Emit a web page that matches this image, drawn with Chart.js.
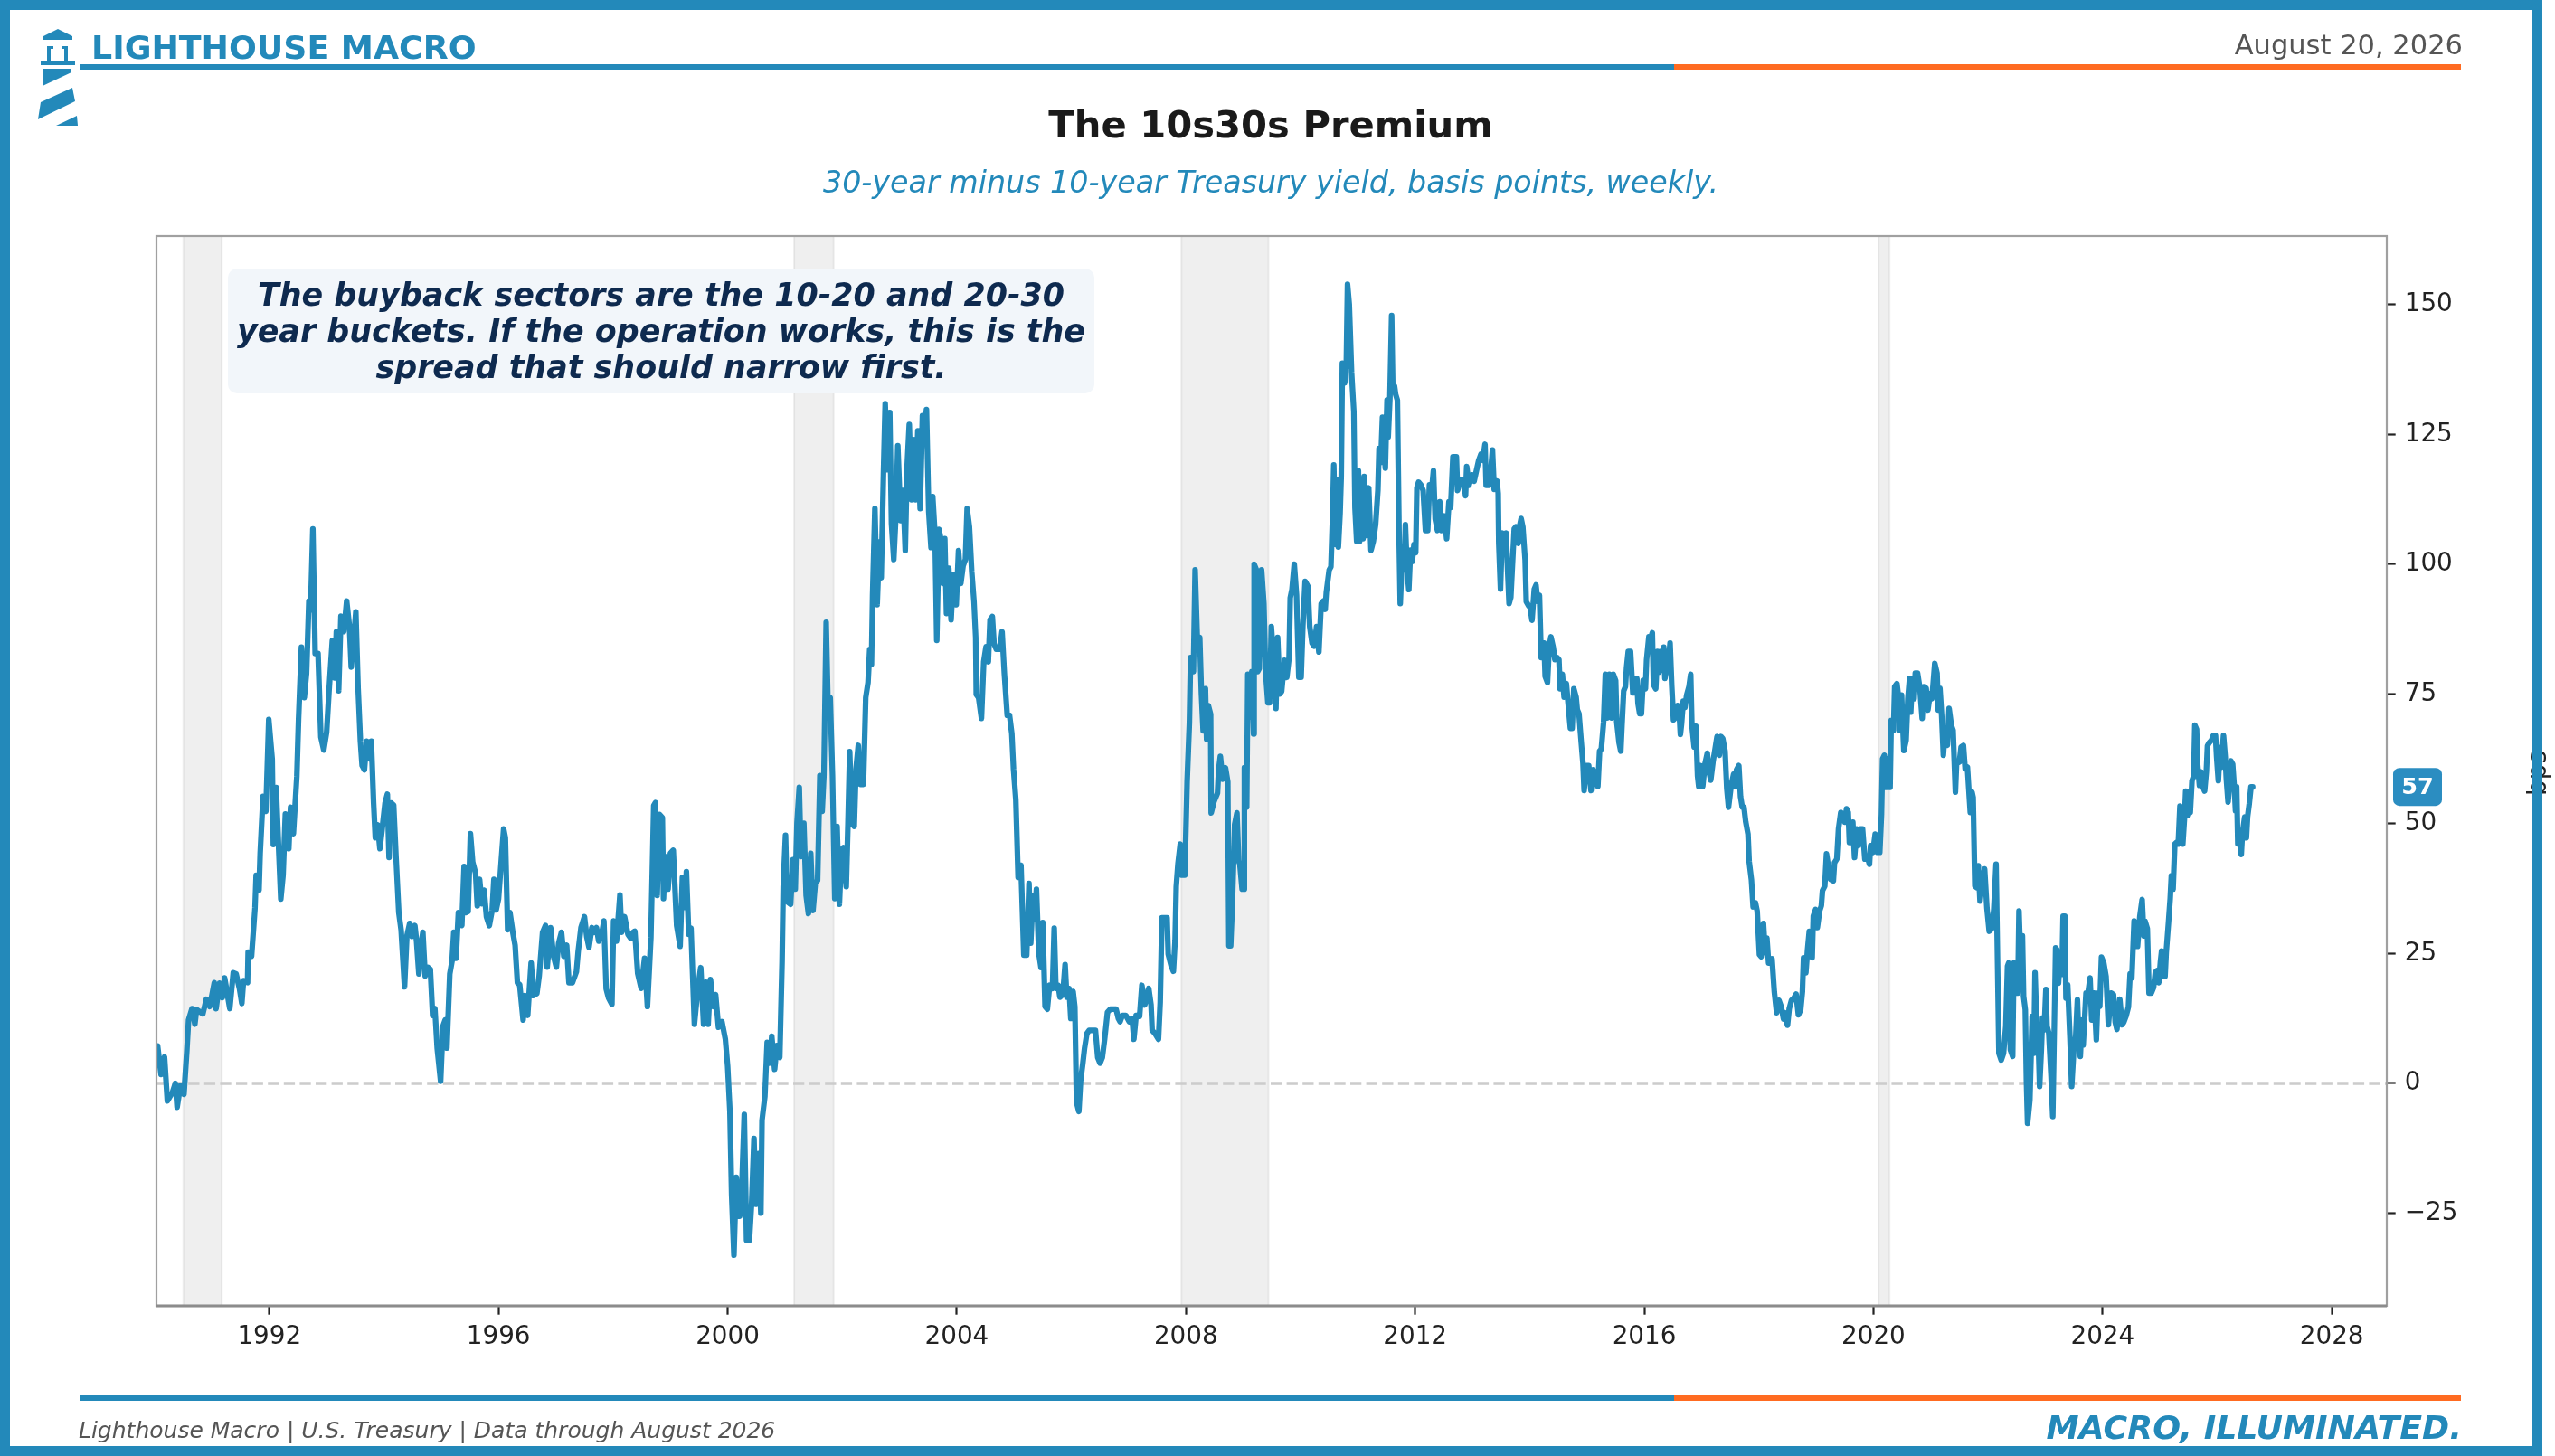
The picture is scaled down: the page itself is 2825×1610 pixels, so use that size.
<!DOCTYPE html>
<html>
<head>
<meta charset="utf-8">
<title>The 10s30s Premium</title>
<script src="https://cdn.jsdelivr.net/npm/chart.js@4.4.1/dist/chart.umd.min.js"></script>
<style>
  html, body { margin: 0; padding: 0; background: #fff; }
  body { width: 2825px; height: 1610px; position: relative; overflow: hidden; font-family: "DejaVu Sans", sans-serif; }
  #chart { position: absolute; left: 0; top: 0; }
  .txt { position: absolute; white-space: nowrap; line-height: 1; }
  .rule { position: absolute; height: 6px; }
  #frame { position: absolute; left: 0; top: 0; width: 2811px; height: 1610px; box-sizing: border-box; border: 11px solid #2389ba; }
</style>
</head>
<body>
<canvas id="chart" width="2825" height="1610"></canvas>

<svg style="position:absolute;left:0;top:0" width="120" height="150">
  <g fill="#2389ba">
    <polygon points="64,32 80,40 80,44 48,44 48,40"/>
    <rect x="52" y="51" width="4" height="16"/>
    <rect x="71" y="51" width="4" height="16"/>
    <rect x="52" y="51" width="7" height="3"/>
    <rect x="68" y="51" width="7" height="3"/>
    <rect x="45" y="67" width="38" height="5"/>
    <polygon points="47,76 79,76 79,80 47,95"/>
    <polygon points="80,97 83,112 42,132 45,113"/>
    <polygon points="85,128 86,139 62,139"/>
  </g>
</svg>

<div class="txt" style="left:101px;top:34.5px;font-size:36.3px;font-weight:bold;color:#2389ba;">LIGHTHOUSE MACRO</div>
<div class="txt" style="right:102px;top:35px;font-size:30.5px;color:#555;text-align:right;">August 20, 2026</div>
<div class="rule" style="left:89px;top:71px;width:1762px;background:#2389ba;"></div>
<div class="rule" style="left:1851px;top:71px;width:870px;background:#ff6b21;"></div>

<div class="txt" style="left:0;width:2810px;top:116.5px;font-size:41.7px;font-weight:bold;color:#1a1a1a;text-align:center;">The 10s30s Premium</div>
<div class="txt" style="left:0;width:2810px;top:185px;font-size:33.3px;font-style:italic;color:#2389ba;text-align:center;">30-year minus 10-year Treasury yield, basis points, weekly.</div>

<div style="position:absolute;left:252px;top:297px;width:958px;height:138px;background:#f2f6fa;border-radius:10px;"></div>
<div style="position:absolute;left:252px;top:306px;width:958px;font-size:34.9px;line-height:40px;font-weight:bold;font-style:italic;color:#0e2a4f;text-align:center;white-space:nowrap;">The buyback sectors are the 10-20 and 20-30<br>year buckets. If the operation works, this is the<br>spread that should narrow first.</div>

<div class="txt" style="left:2778px;top:841px;width:56px;font-size:27.8px;line-height:28px;color:#222;text-align:center;transform:rotate(-90deg);">bps</div>

<div class="rule" style="left:89px;top:1543px;width:1762px;background:#2389ba;"></div>
<div class="rule" style="left:1851px;top:1543px;width:870px;background:#ff6b21;"></div>
<div class="txt" style="left:87px;top:1568.9px;font-size:25px;font-style:italic;color:#555;">Lighthouse Macro | U.S. Treasury | Data through August 2026</div>
<div class="txt" style="right:103px;top:1560.8px;font-size:36.3px;font-weight:bold;font-style:italic;color:#2389ba;text-align:right;">MACRO, ILLUMINATED.</div>

<div id="frame"></div>

<script>
// 30y minus 10y Treasury spread (bps)
const dates = [
  1990.05, 1990.11, 1990.17, 1990.22, 1990.31, 1990.36, 1990.39, 1990.45, 1990.51, 1990.56, 1990.59, 1990.65, 1990.70, 1990.73, 1990.84, 1990.90, 1990.96,
  1991.04, 1991.07, 1991.13, 1991.18, 1991.22, 1991.31, 1991.37, 1991.42, 1991.48, 1991.52, 1991.55, 1991.62, 1991.63, 1991.69, 1991.75, 1991.77, 1991.82, 1991.84, 1991.89, 1991.94, 1991.99,
  1992.05, 1992.07, 1992.12, 1992.16, 1992.20, 1992.24, 1992.28, 1992.34, 1992.37, 1992.42, 1992.48, 1992.51, 1992.56, 1992.61, 1992.65, 1992.69, 1992.72, 1992.76, 1992.80, 1992.85, 1992.90, 1992.95,
  1993.00, 1993.04, 1993.10, 1993.14, 1993.17, 1993.21, 1993.25, 1993.30, 1993.35, 1993.40, 1993.43, 1993.47, 1993.51, 1993.55, 1993.59, 1993.62, 1993.66, 1993.70, 1993.75, 1993.78, 1993.82, 1993.85, 1993.89, 1993.93, 1993.97,
  1994.02, 1994.06, 1994.09, 1994.13, 1994.17, 1994.21, 1994.26, 1994.30, 1994.36, 1994.40, 1994.45, 1994.49, 1994.54, 1994.57, 1994.61, 1994.64, 1994.68, 1994.72, 1994.76, 1994.81, 1994.85, 1994.89, 1994.93, 1994.99,
  1995.03, 1995.07, 1995.10, 1995.15, 1995.19, 1995.22, 1995.26, 1995.30, 1995.36, 1995.40, 1995.43, 1995.47, 1995.51, 1995.55, 1995.60, 1995.63, 1995.67, 1995.71, 1995.75, 1995.79, 1995.84, 1995.89, 1995.92, 1995.96,
  1996.00, 1996.05, 1996.09, 1996.12, 1996.16, 1996.20, 1996.25, 1996.29, 1996.33, 1996.37, 1996.43, 1996.46, 1996.51, 1996.57, 1996.61, 1996.67, 1996.71, 1996.77, 1996.82, 1996.85, 1996.91, 1996.96,
  1997.01, 1997.05, 1997.10, 1997.14, 1997.19, 1997.23, 1997.29, 1997.36, 1997.39, 1997.44, 1997.50, 1997.54, 1997.58, 1997.63, 1997.67, 1997.71, 1997.75, 1997.80, 1997.84, 1997.88, 1997.92, 1997.98,
  1998.01, 1998.06, 1998.12, 1998.15, 1998.20, 1998.26, 1998.31, 1998.35, 1998.38, 1998.43, 1998.49, 1998.55, 1998.60, 1998.66, 1998.71, 1998.74, 1998.77, 1998.81, 1998.86, 1998.88, 1998.91, 1998.96,
  1999.00, 1999.05, 1999.11, 1999.17, 1999.21, 1999.25, 1999.28, 1999.32, 1999.36, 1999.42, 1999.48, 1999.53, 1999.58, 1999.62, 1999.66, 1999.70, 1999.75, 1999.79, 1999.84, 1999.90, 1999.96,
  2000.00, 2000.04, 2000.07, 2000.11, 2000.15, 2000.21, 2000.25, 2000.29, 2000.33, 2000.38, 2000.42, 2000.46, 2000.49, 2000.54, 2000.58, 2000.60, 2000.65, 2000.69, 2000.73, 2000.77, 2000.82, 2000.86, 2000.91, 2000.95, 2000.97,
  2001.01, 2001.04, 2001.10, 2001.14, 2001.18, 2001.21, 2001.25, 2001.28, 2001.33, 2001.37, 2001.41, 2001.45, 2001.49, 2001.53, 2001.57, 2001.61, 2001.65, 2001.68, 2001.72, 2001.75, 2001.79, 2001.83, 2001.87, 2001.91, 2001.95, 2001.99,
  2002.02, 2002.07, 2002.10, 2002.13, 2002.17, 2002.21, 2002.24, 2002.28, 2002.32, 2002.37, 2002.41, 2002.45, 2002.48, 2002.51, 2002.53, 2002.57, 2002.61, 2002.65, 2002.68, 2002.72, 2002.75, 2002.79, 2002.83, 2002.86, 2002.90, 2002.94, 2002.97,
  2003.02, 2003.06, 2003.10, 2003.13, 2003.17, 2003.21, 2003.24, 2003.28, 2003.32, 2003.36, 2003.40, 2003.44, 2003.47, 2003.51, 2003.55, 2003.58, 2003.62, 2003.65, 2003.69, 2003.73, 2003.76, 2003.79, 2003.82, 2003.86, 2003.90, 2003.94, 2003.99,
  2004.03, 2004.07, 2004.11, 2004.15, 2004.18, 2004.22, 2004.26, 2004.30, 2004.33, 2004.34, 2004.38, 2004.43, 2004.47, 2004.51, 2004.55, 2004.58, 2004.62, 2004.65, 2004.69, 2004.75, 2004.79, 2004.83, 2004.88, 2004.92, 2004.96, 2004.99,
  2005.03, 2005.07, 2005.12, 2005.14, 2005.17, 2005.22, 2005.26, 2005.29, 2005.33, 2005.35, 2005.39, 2005.43, 2005.47, 2005.50, 2005.54, 2005.58, 2005.62, 2005.67, 2005.70, 2005.73, 2005.77, 2005.80, 2005.85, 2005.89, 2005.92, 2005.96, 2005.99,
  2006.03, 2006.06, 2006.09, 2006.13, 2006.16, 2006.20, 2006.23, 2006.27, 2006.31, 2006.36, 2006.42, 2006.46, 2006.50, 2006.54, 2006.58, 2006.63, 2006.68, 2006.74, 2006.78, 2006.82, 2006.85, 2006.89, 2006.95,
  2007.01, 2007.06, 2007.09, 2007.13, 2007.19, 2007.23, 2007.28, 2007.35, 2007.39, 2007.41, 2007.46, 2007.52, 2007.55, 2007.58, 2007.64, 2007.67, 2007.69, 2007.74, 2007.78, 2007.81, 2007.83, 2007.86, 2007.90, 2007.93, 2007.98,
  2008.02, 2008.06, 2008.08, 2008.13, 2008.16, 2008.20, 2008.24, 2008.27, 2008.30, 2008.34, 2008.36, 2008.39, 2008.43, 2008.44, 2008.49, 2008.55, 2008.57, 2008.60, 2008.64, 2008.69, 2008.73, 2008.75, 2008.78, 2008.81, 2008.85, 2008.89, 2008.92, 2008.94, 2008.98,
  2009.01, 2009.02, 2009.06, 2009.08, 2009.11, 2009.15, 2009.18, 2009.19, 2009.23, 2009.25, 2009.28, 2009.32, 2009.36, 2009.39, 2009.43, 2009.46, 2009.49, 2009.53, 2009.57, 2009.60, 2009.64, 2009.67, 2009.72, 2009.76, 2009.80, 2009.82, 2009.85, 2009.89, 2009.93, 2009.97,
  2010.01, 2010.04, 2010.08, 2010.13, 2010.16, 2010.20, 2010.24, 2010.28, 2010.32, 2010.36, 2010.40, 2010.43, 2010.45, 2010.50, 2010.53, 2010.56, 2010.58, 2010.61, 2010.64, 2010.66, 2010.69, 2010.71, 2010.73, 2010.77, 2010.80, 2010.82, 2010.85, 2010.89, 2010.93, 2010.95, 2010.98,
  2011.01, 2011.03, 2011.06, 2011.09, 2011.11, 2011.14, 2011.16, 2011.19, 2011.23, 2011.27, 2011.31, 2011.35, 2011.37, 2011.40, 2011.43, 2011.45, 2011.48, 2011.51, 2011.53, 2011.56, 2011.59, 2011.61, 2011.64, 2011.66, 2011.69, 2011.72, 2011.74, 2011.78, 2011.81, 2011.83, 2011.86, 2011.89, 2011.92, 2011.95, 2011.98,
  2012.01, 2012.03, 2012.06, 2012.10, 2012.14, 2012.18, 2012.22, 2012.25, 2012.28, 2012.32, 2012.35, 2012.39, 2012.43, 2012.46, 2012.51, 2012.55, 2012.59, 2012.62, 2012.66, 2012.72, 2012.74, 2012.80, 2012.85, 2012.88, 2012.90, 2012.94, 2012.99,
  2013.03, 2013.07, 2013.11, 2013.15, 2013.18, 2013.22, 2013.24, 2013.29, 2013.32, 2013.35, 2013.38, 2013.43, 2013.45, 2013.46, 2013.49, 2013.52, 2013.55, 2013.59, 2013.61, 2013.64, 2013.67, 2013.71, 2013.73, 2013.76, 2013.80, 2013.82, 2013.85, 2013.88, 2013.92, 2013.94, 2013.98,
  2014.01, 2014.04, 2014.08, 2014.11, 2014.14, 2014.17, 2014.19, 2014.20, 2014.23, 2014.25, 2014.27, 2014.31, 2014.34, 2014.37, 2014.41, 2014.44, 2014.48, 2014.51, 2014.53, 2014.57, 2014.60, 2014.64, 2014.67, 2014.71, 2014.74, 2014.77, 2014.81, 2014.83, 2014.86, 2014.90, 2014.93, 2014.95, 2014.99,
  2015.03, 2015.07, 2015.11, 2015.15, 2015.19, 2015.22, 2015.25, 2015.29, 2015.32, 2015.35, 2015.39, 2015.43, 2015.46, 2015.50, 2015.52, 2015.56, 2015.59, 2015.61, 2015.64, 2015.67, 2015.69, 2015.72, 2015.76, 2015.80, 2015.83, 2015.87, 2015.89, 2015.92, 2015.95, 2015.98,
  2016.02, 2016.04, 2016.08, 2016.11, 2016.14, 2016.16, 2016.20, 2016.23, 2016.26, 2016.29, 2016.31, 2016.34, 2016.36, 2016.39, 2016.43, 2016.45, 2016.48, 2016.51, 2016.54, 2016.58, 2016.61, 2016.63, 2016.65, 2016.68, 2016.71, 2016.74, 2016.78, 2016.81, 2016.83, 2016.87, 2016.90, 2016.93, 2016.95, 2016.98,
  2017.02, 2017.06, 2017.10, 2017.13, 2017.16, 2017.20, 2017.23, 2017.27, 2017.31, 2017.34, 2017.37, 2017.41, 2017.44, 2017.47, 2017.51, 2017.53, 2017.56, 2017.59, 2017.61, 2017.65, 2017.68, 2017.71, 2017.74, 2017.77, 2017.81, 2017.83, 2017.87, 2017.90, 2017.94, 2017.97,
  2018.01, 2018.04, 2018.08, 2018.11, 2018.14, 2018.17, 2018.20, 2018.23, 2018.27, 2018.31, 2018.35, 2018.39, 2018.43, 2018.45, 2018.50, 2018.53, 2018.57, 2018.61, 2018.65, 2018.69, 2018.73, 2018.76, 2018.78, 2018.82, 2018.85, 2018.88, 2018.90, 2018.93, 2018.95, 2018.99,
  2019.02, 2019.06, 2019.09, 2019.11, 2019.15, 2019.18, 2019.22, 2019.25, 2019.30, 2019.32, 2019.36, 2019.39, 2019.43, 2019.46, 2019.50, 2019.53, 2019.56, 2019.58, 2019.61, 2019.64, 2019.67, 2019.71, 2019.74, 2019.77, 2019.81, 2019.85, 2019.89, 2019.93, 2019.95, 2019.99,
  2020.03, 2020.07, 2020.11, 2020.14, 2020.16, 2020.19, 2020.22, 2020.25, 2020.29, 2020.31, 2020.35, 2020.37, 2020.41, 2020.44, 2020.46, 2020.49, 2020.53, 2020.57, 2020.60, 2020.63, 2020.65, 2020.68, 2020.71, 2020.73, 2020.77, 2020.81, 2020.85, 2020.88, 2020.92, 2020.95, 2020.99,
  2021.02, 2021.04, 2021.07, 2021.11, 2021.13, 2021.16, 2021.19, 2021.22, 2021.25, 2021.29, 2021.32, 2021.36, 2021.39, 2021.43, 2021.45, 2021.50, 2021.53, 2021.57, 2021.60, 2021.64, 2021.66, 2021.69, 2021.72, 2021.74, 2021.77, 2021.80, 2021.83, 2021.86, 2021.90, 2021.94, 2021.98,
  2022.02, 2022.06, 2022.10, 2022.14, 2022.16, 2022.19, 2022.23, 2022.27, 2022.31, 2022.34, 2022.36, 2022.39, 2022.43, 2022.45, 2022.48, 2022.52, 2022.54, 2022.57, 2022.60, 2022.62, 2022.65, 2022.67, 2022.69, 2022.73, 2022.77, 2022.80, 2022.82, 2022.85, 2022.88, 2022.90, 2022.93, 2022.95, 2022.98,
  2023.01, 2023.03, 2023.06, 2023.10, 2023.13, 2023.15, 2023.18, 2023.20, 2023.23, 2023.26, 2023.29, 2023.31, 2023.34, 2023.36, 2023.39, 2023.43, 2023.46, 2023.50, 2023.53, 2023.56, 2023.58, 2023.61, 2023.64, 2023.66, 2023.71, 2023.74, 2023.78, 2023.81, 2023.85, 2023.89, 2023.92, 2023.95, 2023.98,
  2024.02, 2024.06, 2024.10, 2024.15, 2024.19, 2024.22, 2024.25, 2024.30, 2024.34, 2024.37, 2024.41, 2024.45, 2024.48, 2024.51, 2024.55, 2024.59, 2024.61, 2024.65, 2024.69, 2024.72, 2024.74, 2024.78, 2024.81, 2024.85, 2024.89, 2024.92, 2024.95, 2024.98,
  2025.01, 2025.03, 2025.06, 2025.09, 2025.11, 2025.15, 2025.18, 2025.20, 2025.23, 2025.26, 2025.29, 2025.32, 2025.35, 2025.37, 2025.40, 2025.43, 2025.45, 2025.48, 2025.51, 2025.53, 2025.56, 2025.59, 2025.61, 2025.64, 2025.66, 2025.69, 2025.72, 2025.74, 2025.78, 2025.81, 2025.83, 2025.86, 2025.90, 2025.93, 2025.97, 2025.99,
  2026.02, 2026.05, 2026.07, 2026.11, 2026.14, 2026.16, 2026.19, 2026.22, 2026.24, 2026.27, 2026.30, 2026.32, 2026.34, 2026.36, 2026.39, 2026.42, 2026.44, 2026.48, 2026.51, 2026.53, 2026.56, 2026.59, 2026.62
];
const spread = [
  7.2, 1.7, 5.1, -3.4, -1.7, 0, -4.6, -0.4, -2.1, 6.3, 12.2, 14.4, 11.4, 14.2, 13.4, 16.2, 14.8,
  19.4, 14.4, 19.3, 16.5, 20.3, 14.4, 21.3, 21.1, 18.2, 15.4, 19.8, 19.4, 25.3, 24.5, 33.8, 40.1, 37.2, 44.3, 55.3, 52.4, 70.1,
  62.5, 46.0, 57.0, 46.0, 35.5, 40.1, 51.9, 45.2, 53.2, 48.1, 59.1, 70.1, 84.0, 74.3, 79.0, 92.9, 91.2, 106.8, 82.8, 82.8, 66.7, 64.2,
  67.6, 75.2, 85.3, 78.1, 87.0, 75.6, 90.0, 87.0, 92.9, 87.8, 80.2, 85.3, 90.8, 76.0, 65.9, 61.2, 60.4, 65.9, 62.5, 65.9, 54.0, 47.3, 49.8, 45.2, 49.0,
  54.0, 55.7, 43.5, 54.0, 53.6, 43.9, 32.9, 29.6, 18.6, 28.3, 30.8, 28.3, 30.4, 27.4, 21.1, 26.2, 29.1, 20.7, 22.4, 22.0, 13.1, 14.4, 6.8, 0.4,
  11.0, 12.2, 6.8, 21.1, 23.6, 29.1, 24.1, 32.9, 30.4, 41.8, 32.9, 33.1, 48.1, 42.6, 40.5, 34.2, 39.3, 34.6, 37.2, 32.1, 30.4, 33.4, 39.3, 33.4,
  35.5, 43.1, 49.0, 47.3, 29.6, 32.9, 29.1, 26.6, 19.4, 19.0, 12.2, 16.9, 13.1, 23.2, 16.9, 17.3, 20.7, 29.1, 30.4, 22.4, 30.0, 24.5,
  22.4, 27.0, 29.1, 24.5, 26.6, 19.4, 19.4, 21.5, 25.3, 30.0, 32.1, 28.3, 26.2, 30.0, 29.1, 30.0, 27.4, 28.7, 31.3, 18.2, 16.5, 15.2,
  31.3, 27.4, 36.3, 29.1, 32.1, 28.7, 27.9, 29.1, 29.3, 21.2, 18.3, 24.1, 14.8, 28.1, 53.5, 54.1, 36.2, 51.8, 51.2, 35.6, 43.7, 37.4,
  44.3, 44.9, 30.4, 26.4, 39.7, 33.9, 40.8, 28.7, 29.9, 11.4, 18.3, 22.3, 11.4, 19.5, 11.4, 20.0, 14.8, 17.1, 10.8, 11.9, 8.5,
  3.3, -5.4, -21.5, -33.1, -18.1, -25.6, -19.2, -6.0, -30.2, -30.2, -22.7, -10.6, -23.3, -13.5, -25.0, -7.1, -2.5, 7.9, 3.9, 9.1, 2.7, 7.3, 5.0, 23.5, 37.9,
  47.8, 35.0, 34.5, 43.1, 37.4, 50.1, 57.0, 43.7, 50.1, 36.2, 32.7, 44.3, 33.3, 38.5, 39.1, 59.3, 52.4, 59.3, 88.8, 73.7, 74.3, 59.3, 35.6, 49.5, 34.5, 44.9,
  45.4, 37.9, 50.1, 63.9, 50.1, 49.5, 60.5, 65.1, 57.6, 57.6, 74.3, 77.2, 83.6, 80.7, 93.9, 110.7, 92.2, 104.3, 97.4, 117.6, 130.9, 118.2, 129.2, 107.8, 100.9, 110.1, 122.8,
  108.4, 114.2, 102.6, 118.2, 126.9, 112.4, 124.0, 112.4, 125.7, 110.7, 128.6, 126.3, 129.8, 110.1, 103.2, 113.0, 105.5, 85.3, 106.7, 104.3, 96.3, 104.9, 90.5, 99.2, 89.3, 98.0, 92.2,
  102.6, 96.3, 99.7, 100.9, 110.7, 107.2, 98.6, 92.8, 85.9, 74.9, 74.3, 70.3, 81.2, 84.1, 81.2, 89.3, 89.9, 84.7, 83.6, 83.6, 87.0, 78.9, 70.9, 70.9, 67.4, 60.5,
  54.7, 39.7, 42.0, 35.0, 24.7, 24.7, 38.5, 27.0, 36.2, 31.6, 37.4, 25.2, 22.3, 31.0, 14.8, 14.3, 18.9, 18.3, 29.9, 18.3, 18.9, 16.6, 17.1, 22.9, 16.6, 18.3, 12.5,
  17.7, 14.8, -3.6, -5.4, 0.4, 3.9, 6.8, 9.6, 10.2, 10.2, 10.2, 5.0, 3.9, 5.0, 8.5, 13.7, 14.3, 14.3, 14.3, 12.5, 11.9, 13.1, 13.1,
  11.9, 12.5, 8.5, 13.1, 12.9, 18.9, 15.1, 18.3, 15.1, 10.2, 9.6, 8.5, 15.6, 31.9, 31.9, 31.9, 24.9, 22.7, 21.6, 27.6, 37.9, 42.3, 46.1, 40.1, 40.1,
  58.1, 69.5, 82.0, 79.3, 98.9, 84.8, 85.9, 75.0, 67.9, 76.0, 66.3, 72.8, 71.1, 52.1, 54.3, 55.9, 60.3, 63.0, 58.6, 60.8, 58.1, 26.5, 26.5, 34.7, 49.9, 52.1, 42.8, 42.3, 37.4,
  37.4, 60.8, 53.2, 78.8, 70.6, 79.3, 67.3, 100.0, 98.9, 79.3, 79.9, 98.9, 92.4, 79.3, 73.3, 73.3, 88.0, 81.5, 72.2, 85.9, 75.0, 75.5, 81.5, 78.2, 82.0, 93.5, 95.1, 100.0, 94.0, 78.2,
  78.2, 88.0, 96.7, 95.7, 88.0, 84.8, 84.2, 88.0, 83.1, 92.4, 92.9, 91.3, 94.6, 98.9, 99.5, 109.8, 119.1, 103.8, 116.3, 103.3, 109.8, 116.9, 138.7, 134.9, 139.2, 153.9, 150.1, 137.0, 129.4, 110.9, 104.4,
  118.0, 104.4, 116.3, 104.9, 116.9, 105.5, 112.0, 114.7, 102.7, 104.4, 107.6, 114.2, 122.3, 119.6, 128.3, 124.0, 118.5, 131.6, 124.5, 132.1, 147.9, 133.8, 134.3, 132.7, 131.6, 105.5, 92.4, 103.3, 98.9, 107.6, 98.9, 95.1, 102.7, 100.5, 103.8,
  102.2, 114.7, 115.8, 115.3, 114.2, 106.5, 106.5, 115.3, 113.1, 118.0, 108.7, 106.5, 112.0, 106.5, 109.3, 104.9, 112.0, 110.9, 120.7, 120.7, 114.2, 116.3, 116.3, 113.2, 118.8, 115.2, 117.2,
  116.0, 118.0, 120.0, 121.2, 120.0, 123.1, 115.2, 115.2, 118.0, 122.0, 114.4, 116.0, 113.6, 104.0, 95.2, 106.0, 104.4, 106.0, 100.0, 92.4, 93.6, 102.4, 106.8, 107.2, 104.0, 107.2, 108.8, 107.2, 100.8, 92.8, 92.0,
  91.6, 89.2, 95.2, 96.0, 92.8, 94.0, 86.0, 82.0, 82.0, 84.8, 78.4, 77.2, 84.0, 86.0, 84.0, 81.6, 82.0, 81.6, 76.0, 78.8, 74.4, 77.0, 73.2, 68.4, 68.4, 76.0, 74.4, 72.0, 71.2, 65.6, 61.6, 56.4, 61.2,
  61.2, 56.4, 60.4, 57.6, 57.2, 64.0, 64.4, 69.6, 78.8, 70.4, 78.8, 70.4, 78.8, 77.6, 69.6, 65.6, 64.0, 68.8, 75.6, 76.4, 80.0, 83.2, 83.2, 75.2, 75.2, 78.0, 73.2, 71.2, 71.2, 77.6,
  76.0, 81.6, 86.0, 85.6, 86.8, 76.8, 76.0, 83.2, 79.2, 83.2, 80.0, 84.0, 78.0, 80.0, 82.4, 84.8, 76.4, 70.0, 70.4, 72.8, 71.2, 67.2, 69.2, 73.6, 72.4, 74.8, 76.4, 78.8, 69.2, 64.8, 68.8, 59.2, 57.2, 61.2,
  57.2, 61.6, 63.6, 60.0, 58.4, 62.0, 64.0, 66.8, 63.2, 66.8, 66.4, 64.0, 56.8, 53.2, 56.8, 58.0, 59.6, 57.2, 60.4, 61.2, 55.2, 53.2, 53.2, 50.4, 48.0, 42.8, 39.2, 34.0, 34.8, 33.2,
  24.8, 24.4, 30.8, 25.2, 28.0, 23.2, 23.2, 24.0, 17.6, 13.6, 16.0, 14.8, 12.4, 13.6, 11.2, 14.4, 16.0, 16.4, 17.2, 13.2, 14.2, 17.7, 24.2, 21.3, 25.8, 29.3, 25.1, 24.2, 32.2, 33.5,
  30.0, 33.2, 34.2, 37.1, 38.0, 44.2, 41.3, 39.3, 39.0, 42.5, 43.2, 49.0, 52.2, 51.9, 50.3, 52.9, 52.2, 46.4, 46.4, 50.3, 43.5, 49.0, 45.8, 49.0, 49.0, 43.2, 43.8, 42.2, 45.8, 44.5,
  48.0, 44.5, 44.5, 51.9, 62.5, 63.2, 57.0, 62.5, 57.0, 69.9, 68.0, 76.4, 77.0, 74.1, 68.0, 74.8, 64.1, 66.1, 74.1, 78.0, 71.5, 78.0, 74.1, 79.0, 79.0, 76.1, 70.3, 76.4, 76.1, 71.9, 75.1,
  74.1, 76.7, 80.9, 79.0, 71.9, 76.1, 70.9, 63.2, 68.3, 65.1, 72.2, 68.9, 68.0, 56.1, 61.6, 61.9, 64.8, 65.1, 60.6, 60.9, 57.4, 52.2, 56.1, 55.1, 38.0, 37.7, 41.9, 35.1, 39.3, 41.3, 33.8,
  29.3, 29.7, 33.5, 42.2, 27.7, 5.8, 4.5, 5.8, 11.0, 22.6, 23.2, 6.5, 5.2, 23.2, 17.4, 17.4, 33.2, 23.2, 28.4, 16.8, 14.2, 0.6, -7.7, -3.2, 12.9, 5.8, 21.3, 11.0, 7.1, -0.6, 6.5, 12.6, 10.3,
  18.1, 11.0, 9.7, 1.3, -6.4, 6.5, 26.1, 25.8, 19.3, 24.5, 21.0, 32.2, 32.2, 16.4, 19.0, 8.7, -0.6, 7.1, 9.0, 16.1, 9.7, 5.2, 12.2, 7.4, 17.4, 17.1, 20.3, 12.2, 17.4, 8.4, 17.4, 14.8, 24.3,
  23.2, 20.6, 11.3, 17.4, 17.1, 11.8, 10.4, 16.2, 11.3, 11.8, 13.0, 14.7, 21.1, 20.3, 31.3, 26.4, 26.4, 32.2, 35.4, 28.4, 31.3, 29.8, 17.4, 17.4, 18.5, 21.4, 21.7, 19.4,
  23.5, 25.5, 20.6, 20.6, 25.2, 31.0, 35.6, 40.0, 37.4, 46.1, 46.4, 46.1, 53.4, 53.1, 46.1, 51.3, 56.3, 51.6, 56.3, 52.2, 58.3, 59.2, 69.0, 68.2, 61.2, 57.4, 60.0, 57.4, 56.3, 60.0, 65.0, 65.6, 66.1, 67.0, 67.0, 62.9,
  58.3, 64.7, 60.9, 67.0, 62.9, 58.6, 54.2, 58.3, 62.1, 61.5, 56.8, 52.5, 57.1, 46.1, 47.8, 44.1, 48.1, 51.3, 47.3, 51.3, 53.9, 57.1, 57.1
];

const xTicks = [1992, 1996, 2000, 2004, 2008, 2012, 2016, 2020, 2024, 2028];
const yTicks = [-25, 0, 25, 50, 75, 100, 125, 150];
// NBER recessions as [start, end] in decimal years
const recessions = [[1990.50, 1991.17], [2001.16, 2001.85], [2007.92, 2009.44], [2020.09, 2020.28]];

const BLUE = '#2389ba';
const TICK_FONT = { family: 'DejaVu Sans', size: 27.8 };

const decor = {
  id: 'decor',
  beforeDatasetsDraw(chart) {
    const { ctx, chartArea: a, scales: { x, y } } = chart;
    ctx.save();
    ctx.fillStyle = 'rgba(160,160,160,0.17)';
    ctx.strokeStyle = 'rgba(160,160,160,0.17)';
    ctx.lineWidth = 2;
    recessions.forEach(([s, e]) => {
      const x0 = x.getPixelForValue(s), x1 = x.getPixelForValue(e);
      ctx.fillRect(x0, a.top, x1 - x0, a.bottom - a.top);
      ctx.strokeRect(x0, a.top, x1 - x0, a.bottom - a.top);
    });
    const y0 = y.getPixelForValue(0);
    ctx.strokeStyle = '#cccccc';
    ctx.lineWidth = 3.3;
    ctx.setLineDash([12.3, 5.3]);
    ctx.beginPath();
    ctx.moveTo(a.left, y0);
    ctx.lineTo(a.right, y0);
    ctx.stroke();
    ctx.restore();
  },
  afterDatasetsDraw(chart) {
    const { ctx, chartArea: a } = chart;
    ctx.save();
    ctx.strokeStyle = '#a0a0a0';
    ctx.lineWidth = 2.2;
    ctx.strokeRect(a.left, a.top, a.right - a.left, a.bottom - a.top);
    ctx.strokeStyle = '#8c8c8c';
    ctx.lineWidth = 2.8;
    ctx.beginPath();
    ctx.moveTo(a.left, a.bottom);
    ctx.lineTo(a.right, a.bottom);
    ctx.stroke();
    ctx.restore();
  },
  afterDraw(chart) {
    // last value badge on the right axis
    const { ctx, chartArea: a, scales: { y } } = chart;
    const last = spread[spread.length - 1];
    const cy = y.getPixelForValue(last);
    const w = 54, h = 42, bx = a.right + 7, by = cy - h / 2;
    ctx.save();
    ctx.fillStyle = '#2b8dc1';
    ctx.beginPath();
    ctx.roundRect(bx, by, w, h, 7);
    ctx.fill();
    ctx.fillStyle = '#ffffff';
    ctx.font = 'bold 25.5px "DejaVu Sans"';
    ctx.textAlign = 'center';
    ctx.textBaseline = 'middle';
    ctx.fillText(String(Math.round(last)), bx + w / 2, cy + 1);
    ctx.restore();
  }
};

const points = dates.map((d, i) => ({ x: d, y: spread[i] }));

new Chart(document.getElementById('chart'), {
  type: 'line',
  data: {
    datasets: [{
      data: points,
      borderColor: BLUE,
      borderWidth: 6.2,
      pointRadius: 0,
      tension: 0,
      fill: false,
      borderJoinStyle: 'round',
      borderCapStyle: 'round'
    }]
  },
  options: {
    responsive: false,
    animation: false,
    layout: { padding: { left: 173, top: 261, right: 86, bottom: 106 } },
    plugins: { legend: { display: false }, tooltip: { enabled: false } },
    scales: {
      x: {
        type: 'linear',
        min: 1990.03,
        max: 2028.96,
        afterBuildTicks: s => { s.ticks = xTicks.map(v => ({ value: v })); },
        afterFit: s => { s.height = 60; },
        border: { display: false },
        grid: { drawOnChartArea: false, drawTicks: true, tickLength: 9.7, tickWidth: 2.2, tickColor: '#222' },
        ticks: { color: '#222', font: TICK_FONT, padding: 8, maxRotation: 0, autoSkip: false, callback: v => String(v) }
      },
      y: {
        position: 'right',
        min: -42.85,
        max: 163.2,
        afterBuildTicks: s => { s.ticks = yTicks.map(v => ({ value: v })); },
        afterFit: s => { s.width = 100; },
        border: { display: false },
        grid: { drawOnChartArea: false, drawTicks: true, tickLength: 9.7, tickWidth: 2.2, tickColor: '#222' },
        ticks: { color: '#222', font: TICK_FONT, padding: 10, autoSkip: false, callback: v => v < 0 ? '\u2212' + Math.abs(v) : String(v) }
      }
    }
  },
  plugins: [decor]
});
</script>
</body>
</html>
